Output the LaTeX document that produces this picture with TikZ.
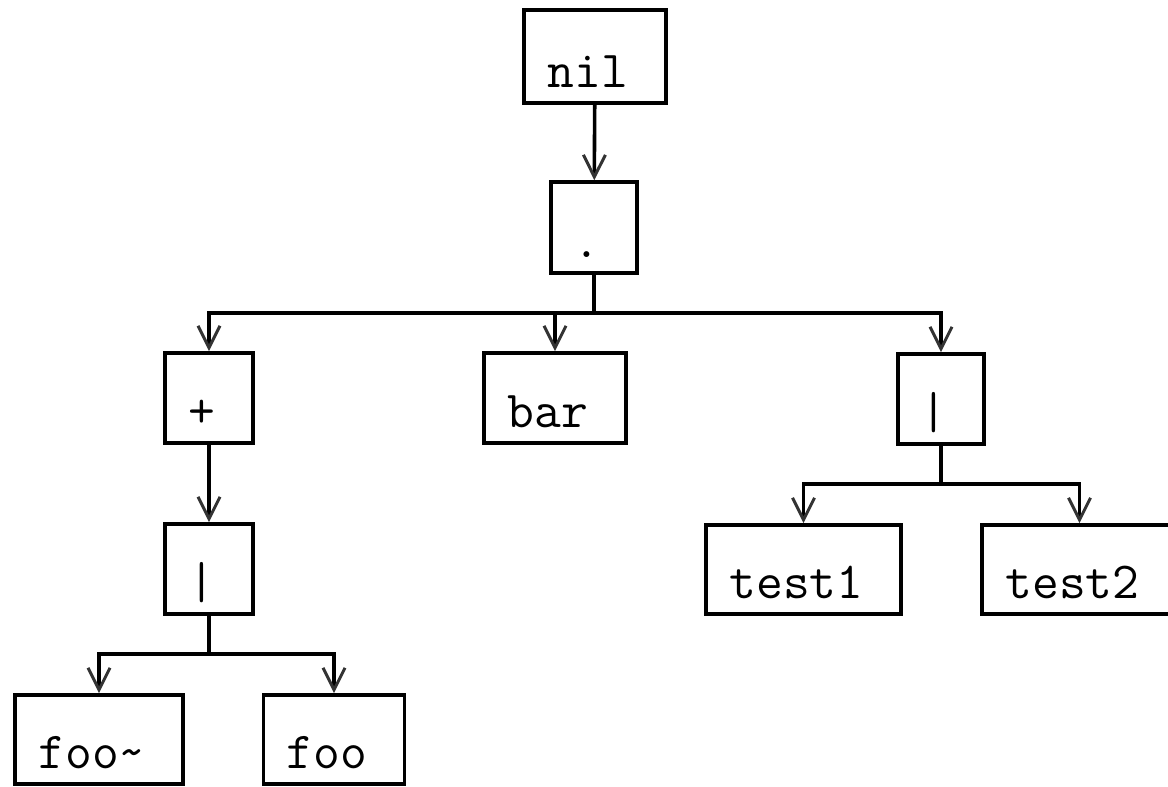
\documentclass[tikz,border=0pt]{standalone}
\usetikzlibrary{arrows.meta}
\begin{document}
\begin{tikzpicture}[x=1pt,y=-1pt,
  box/.style={draw=black, line width=3.6pt, rectangle, inner sep=0pt,
    minimum height=#1, text height=#1-16pt, text depth=16pt,
    font=\fontsize{52}{52}\selectfont\ttfamily},
  box/.default=90pt,
  conn/.style={line width=3.6pt, black},
  arr/.style={conn, -{Straight Barb[length=22pt,width=22pt,line width=3pt,color=black!80]}},
]
\useasboundingbox (0,0) rectangle (1168,787);
\clip (0,0) rectangle (1168,787);
% nodes
\node[box=93pt, minimum width=142pt] (nil) at (595,56.5) {nil\hspace*{14pt}};
\node[box=91pt, minimum width=86pt] (dot) at (594,227.5) {.\hspace*{14pt}};
\node[box, minimum width=88pt] (plus) at (209,398) {+\hspace*{14pt}};
\node[box, minimum width=142pt] (bar) at (555,398) {bar\hspace*{14pt}};
\node[box, minimum width=86pt] (orR) at (941,399) {|\hspace*{14pt}};
\node[box, minimum width=88pt] (orL) at (209,569) {|\hspace*{14pt}};
\node[box=89pt, minimum width=195pt] (test1) at (803.5,569.5) {test1\hspace*{14pt}};
\node[box=89pt, minimum width=195pt] (test2) at (1079.5,569.5) {test2\hspace*{14pt}};
\node[box=89pt, minimum width=168pt] (fooT) at (99,739.5) {foo\textasciitilde\hspace*{14pt}};
\node[box=89pt, minimum width=141pt] (foo) at (334,739.5) {foo\hspace*{14pt}};
% bus points
\coordinate (b1) at (594,313);
\coordinate (b2) at (941,484);
\coordinate (b3) at (209,654);
% connectors
\draw[arr] (nil) -- (dot);
\draw[conn] (dot) -- (b1);
\draw[arr] (b1) -| (plus);
\draw[arr] (b1) -| (bar);
\draw[arr] (b1) -| (orR);
\draw[arr] (plus) -- (orL);
\draw[conn] (orR) -- (b2);
\draw[arr] (b2) -| (test1);
\draw[arr] (b2) -| (test2);
\draw[conn] (orL) -- (b3);
\draw[arr] (b3) -| (fooT);
\draw[arr] (b3) -| (foo);
\end{tikzpicture}
\end{document}
